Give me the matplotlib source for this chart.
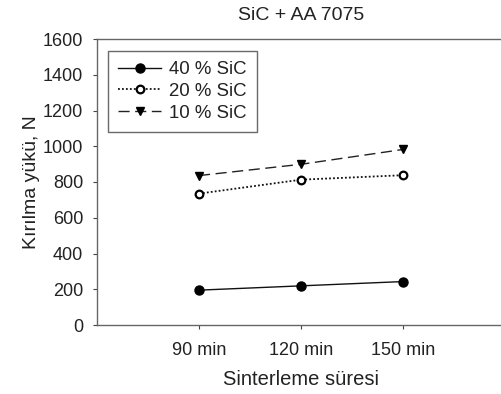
import matplotlib
matplotlib.use("Agg")
import matplotlib.pyplot as plt

categories = ["90 min", "120 min", "150 min"]
sic40 = [195, 219, 243]
sic20 = [735, 813, 838]
sic10 = [836, 899, 982]
yticks = [0, 200, 400, 600, 800, 1000, 1200, 1400, 1600]

plt.rcParams['font.family'] = ['Liberation Sans', 'DejaVu Sans']
txt = '#222222'

fig = plt.figure(figsize=(5.02, 3.94), dpi=100)
ax = fig.add_axes([97/502, 1-325/394, 425/502, 286/394])
x = [1, 2, 3]
ax.plot(x, sic40, color='#111111', lw=1, marker='o', ms=6.5, mfc='black', mec='black', label='40 % SiC')
ax.plot(x, sic20, color='#111111', lw=1.3, ls=(0, (1, 1.2)), marker='o', ms=5.5, mfc='white', mec='black', mew=1.6, label='20 % SiC')
ax.plot(x, sic10, color='#222222', lw=1, ls=(0, (8, 4)), marker='v', ms=6, mfc='black', mec='black', label='10 % SiC')

ax.set_xlim(0, 425/102)
ax.set_ylim(0, 1600)
ax.set_xticks(x)
ax.set_xticklabels(categories)
ax.set_yticks(yticks)
ax.tick_params(direction='out', length=3, width=0.8, colors='#444444', labelcolor=txt, labelsize=13)
ax.tick_params(axis='y', pad=7)
ax.tick_params(axis='x', pad=9)
for s in ax.spines.values():
    s.set_color('#666666')
    s.set_linewidth(1)
ax.spines['right'].set_visible(False)
cx = (301 - 97) / 425
ax.set_xlabel('Sinterleme süresi', fontsize=14.5, color=txt, labelpad=8, x=cx)
ax.set_ylabel('Kırılma yükü, N', fontsize=14, color=txt, labelpad=2)
ax.set_title('SiC + AA 7075', fontsize=14, color=txt, pad=13.5, x=cx)
leg = ax.legend(loc='upper left', bbox_to_anchor=(11/425, 1-12/286), borderaxespad=0,
                handlelength=2.3, fontsize=13.4,
                frameon=True, fancybox=False, edgecolor='#444444', borderpad=0.55, labelspacing=0.25,
                handletextpad=0.45)
leg.get_frame().set_linewidth(1)
for t in leg.get_texts():
    t.set_color(txt)
fig.savefig('out.png', dpi=100)
